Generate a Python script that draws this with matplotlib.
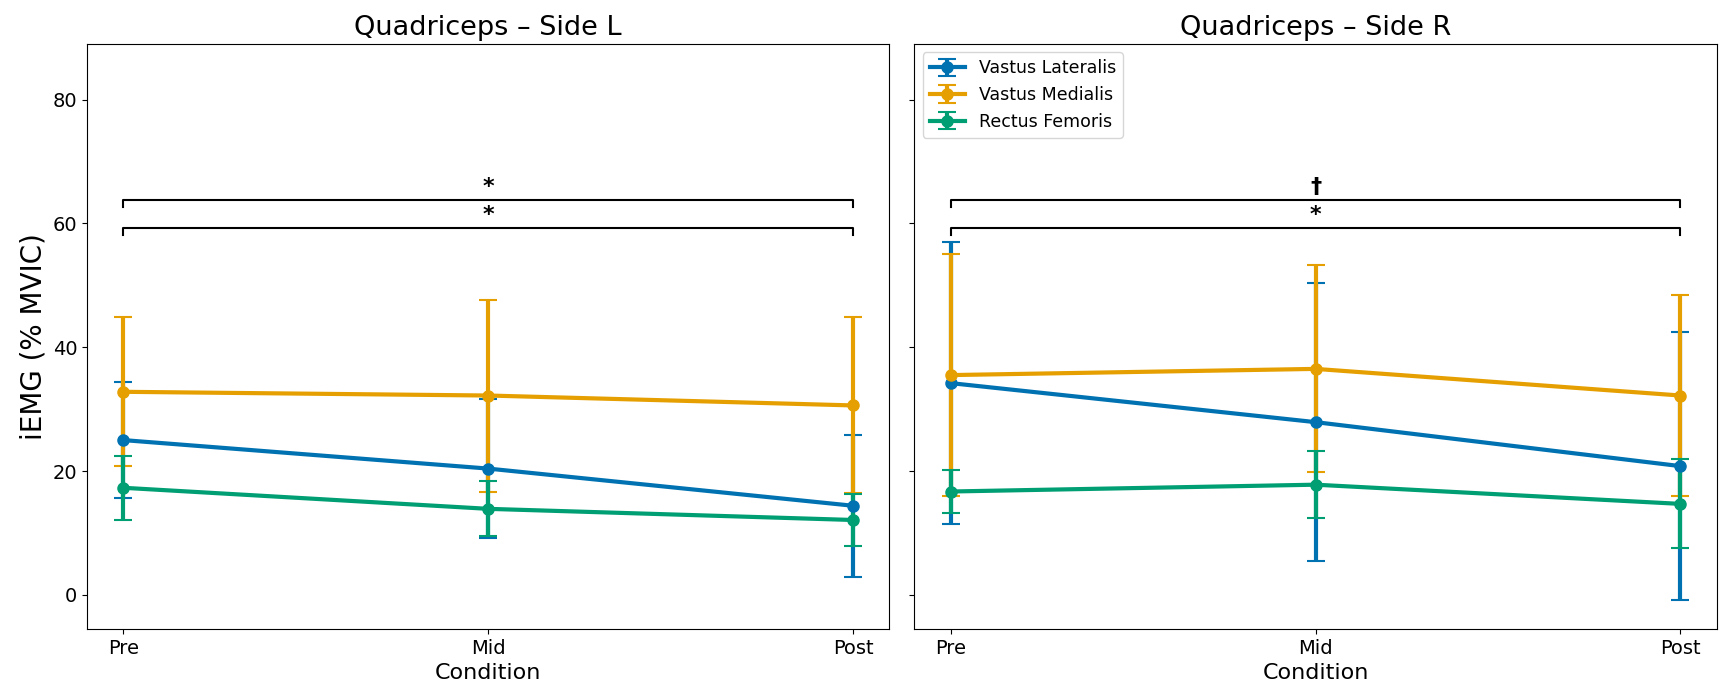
import matplotlib
matplotlib.use("Agg")
import matplotlib.pyplot as plt
import numpy as np

conditions = ["Pre", "Mid", "Post"]
muscles = ["Vastus Lateralis", "Vastus Medialis", "Rectus Femoris"]
colors = ["#0072B2", "#E69F00", "#009E73"]

# Side L
left_means = {
    "Vastus Lateralis": [25.0, 20.4, 14.4],
    "Vastus Medialis": [32.8, 32.2, 30.6],
    "Rectus Femoris": [17.3, 13.9, 12.1],
}
left_err = {
    "Vastus Lateralis": [9.4, 11.2, 11.5],
    "Vastus Medialis": [12.0, 15.5, 14.2],
    "Rectus Femoris": [5.2, 4.45, 4.2],
}
# Side R
right_means = {
    "Vastus Lateralis": [34.2, 27.9, 20.8],
    "Vastus Medialis": [35.5, 36.5, 32.2],
    "Rectus Femoris": [16.7, 17.8, 14.7],
}
right_err = {
    "Vastus Lateralis": [22.8, 22.5, 21.7],
    "Vastus Medialis": [19.6, 16.7, 16.2],
    "Rectus Femoris": [3.5, 5.45, 7.2],
}

left_brackets = [(59.3, "*"), (63.8, "*")]
right_brackets = [(59.3, "*"), (63.8, "\u2020")]

fig, axes = plt.subplots(1, 2, figsize=(17.22, 6.95), dpi=100, sharey=True)
fig.subplots_adjust(left=0.0505, right=0.997, top=0.937, bottom=0.095, wspace=0.031)

x = np.arange(len(conditions))
panels = [("Quadriceps \u2013 Side L", left_means, left_err, left_brackets),
          ("Quadriceps \u2013 Side R", right_means, right_err, right_brackets)]

for ax, (title, means, errs, brackets) in zip(axes, panels):
    for m, c in zip(muscles, colors):
        ax.errorbar(x, means[m], yerr=errs[m], color=c, lw=3, marker="o",
                    markersize=8, capsize=6.5, elinewidth=3, capthick=1.5, label=m)
    for yb, sym in brackets:
        h = 1.2
        ax.plot([x[0], x[0], x[-1], x[-1]], [yb - h, yb, yb, yb - h], color="black", lw=1.5)
        ax.text((x[0] + x[-1]) / 2, yb + 0.4, sym, ha="center", va="bottom",
                fontsize=16, fontweight="bold")
    ax.set_title(title, fontsize=19.5)
    ax.set_xticks(x)
    ax.set_xticklabels(conditions)
    ax.set_xlabel("Condition", fontsize=16)
    ax.set_xlim(-0.1, 2.1)
    ax.tick_params(labelsize=14)

axes[0].set_ylim(-5.5, 89)
axes[0].set_yticks([0, 20, 40, 60, 80])
axes[0].set_ylabel("iEMG (% MVIC)", fontsize=20)
axes[1].legend(loc="upper left", fontsize=12.5)

fig.savefig("out.png", dpi=100)
